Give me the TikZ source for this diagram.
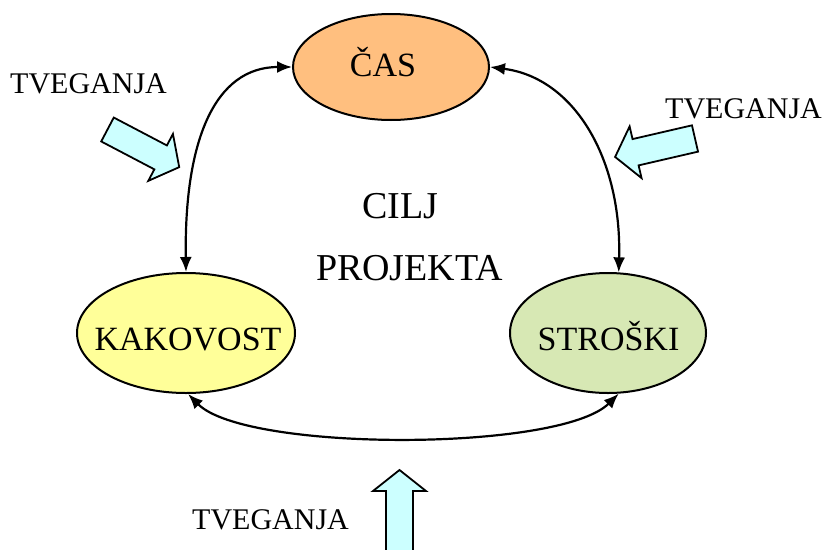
\documentclass[tikz,border=0pt]{standalone}
\usepackage{fontspec}
\setmainfont{Liberation Serif}
\usetikzlibrary{arrows.meta,shapes.geometric}

\definecolor{timeorange}{HTML}{FFBF7F}
\definecolor{qualyellow}{HTML}{FFFF99}
\definecolor{costgreen}{HTML}{D7E8B4}
\definecolor{riskcyan}{HTML}{CCFFFF}

\tikzset{
  goal/.style={ellipse, draw=black, line width=2pt, inner sep=0pt},
  goallabel/.style={anchor=base, inner sep=0pt, font=\fontsize{34}{40}\selectfont},
  centerlabel/.style={anchor=base, inner sep=0pt, font=\fontsize{38}{44}\selectfont},
  risklabel/.style={anchor=base west, inner sep=0pt, font=\fontsize{30}{36}\selectfont},
  link/.style={line width=2.2pt, {Latex[length=15pt,width=12pt]}-{Latex[length=15pt,width=12pt]}},
  blockarrow/.style={draw=black, fill=riskcyan, line width=1.8pt, line join=miter},
}

% block arrow along +x: tail centre at origin, total length #1
\newcommand{\riskarrow}[1]{%
  \draw[blockarrow] (0,-13.5) -- ({#1-21},-13.5) -- ({#1-21},-26.5) -- (#1,0)
    -- ({#1-21},26.5) -- ({#1-21},13.5) -- (0,13.5) -- cycle;}

\begin{document}
\begin{tikzpicture}[x=1pt,y=-1pt]
  \useasboundingbox (0,0) rectangle (826,549);
  \clip (0,0) rectangle (826,549);

  % the three project goals
  \node[goal, fill=timeorange, minimum width=196pt, minimum height=106pt] (cas) at (391,67) {};
  \node[goal, fill=qualyellow, minimum width=218pt, minimum height=120pt] (kak) at (186,333) {};
  \node[goal, fill=costgreen, minimum width=196pt, minimum height=120pt] (str) at (608,333) {};

  \node[goallabel] (castxt) at (383,76) {ČAS};
  \node[goallabel] (kaktxt) at (188,350) {KAKOVOST};
  \node[goallabel] (strtxt) at (608.5,350) {STROŠKI};

  % centre caption
  \node[centerlabel] (cilj) at (400.5,218) {CILJ};
  \node[centerlabel] (projekta) at (409.5,280) {PROJEKTA};

  % two-way links between the goals
  \draw[link] (kak.north) .. controls (184,140) and (215,67) .. (cas.west);
  \draw[link] (cas.east) .. controls (575,78) and (622,160) .. (str.80);
  \draw[link] (kak.-88) .. controls (245,452) and (560,452) .. (str.-80);

  % risks pushing on the triangle
  \begin{scope}[shift={(107.5,129.5)}, rotate=-27.7] \riskarrow{81} \end{scope}
  \begin{scope}[shift={(695,138.5)}, rotate=193] \riskarrow{82} \end{scope}
  \begin{scope}[shift={(399.5,570)}, rotate=90] \riskarrow{100} \end{scope}

  \node[risklabel] (risk1) at (10,93) {TVEGANJA};
  \node[risklabel] (risk2) at (665,118) {TVEGANJA};
  \node[risklabel] (risk3) at (192,529) {TVEGANJA};
\end{tikzpicture}
\end{document}
